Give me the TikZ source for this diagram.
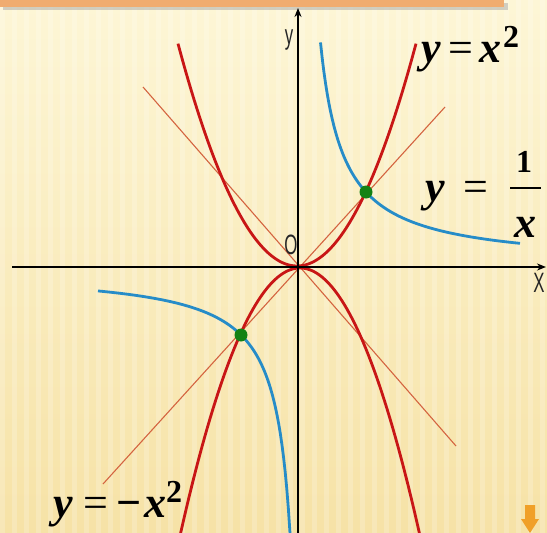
\documentclass[tikz,border=0pt]{standalone}
\usepackage{fontspec}
\setmainfont{Liberation Serif}
\newfontfamily\labfont{Liberation Sans}
\usetikzlibrary{arrows.meta}
\definecolor{bgtop}{RGB}{253,246,214}
\definecolor{bgbot}{RGB}{246,226,166}
\definecolor{curvered}{RGB}{200,22,22}
\definecolor{curveblue}{RGB}{38,140,200}
\definecolor{linered}{RGB}{212,100,64}
\definecolor{dotgreen}{RGB}{20,130,20}
\definecolor{barorange}{RGB}{240,172,112}
\definecolor{arroworange}{RGB}{240,160,40}
\begin{document}
\begin{tikzpicture}[x=1pt,y=-1pt,
  axis/.style={line width=1.8pt,-{Stealth[length=9pt,width=7pt]}},
  redcurve/.style={curvered,line width=2.8pt},
  bluecurve/.style={curveblue,line width=2.8pt},
  thinline/.style={linered,line width=1.1pt},
  dot/.style={circle,fill=dotgreen,inner sep=0pt,minimum size=13pt},
  glyph/.style={font=\fontsize{44}{48}\selectfont\bfseries\itshape,inner sep=0pt,anchor=base},
  eqsign/.style={font=\fontsize{44}{48}\selectfont,inner sep=0pt,anchor=base},
  sup/.style={font=\fontsize{32}{34}\selectfont\bfseries,inner sep=0pt,anchor=base},
  axlabel/.style={font=\labfont\fontsize{28}{30}\selectfont,inner sep=0pt,xscale=0.6,text=black!85}
]
\useasboundingbox (0,0) rectangle (547,533);
\shade[top color=bgtop,bottom color=bgbot] (0,0) rectangle (547,533);
\foreach \i in {0,...,45} \fill[white,opacity=0.2] (\i*12,0) rectangle ++(5,533);
% top bar
\fill[black!35,opacity=0.5] (3,3) rectangle (508,10);
\fill[barorange] (0,0) rectangle (504,7);
% lines y=x and y=-x
\coordinate (l1a) at (103,484); \coordinate (l1b) at (445,107);
\coordinate (l2a) at (143,87); \coordinate (l2b) at (456,446);
\draw[thinline] (l1a) -- (l1b);
\draw[thinline] (l2a) -- (l2b);
% parabolas
\draw[redcurve] plot[domain=178:416,samples=90] (\x,{266-0.0157*(\x-297)^2});
\draw[redcurve] plot[domain=180.5:419.5,samples=90] (\x,{268+0.0186*(\x-300)^2});
% hyperbola
\draw[bluecurve] plot[domain=320.5:520,samples=120] (\x,{266-5030/(\x-298)});
\draw[bluecurve] plot[domain=98:290,samples=120] (\x,{271+4143/(305.8-\x)});
% axes
\coordinate (xs) at (12,267); \coordinate (xe) at (546,267);
\coordinate (ys) at (298,533); \coordinate (ye) at (298,8);
\draw[axis] (xs) -- (xe);
\draw[axis] (ys) -- (ye);
% dots
\node[dot] (p1) at (366,192) {};
\node[dot] (p2) at (241,335) {};
% axis labels
\node[axlabel] (ylab) at (289,40) {y};
\node[axlabel] (olab) at (291,245) {O};
\node[axlabel] (xlab) at (539,283) {X};
% y = x^2
\node[glyph] (t1y) at (431,62) {y};
\node[eqsign] (t1e) at (461,62) {=};
\node[glyph] (t1x) at (490,62) {x};
\node[sup] (t1s) at (511,47) {2};
% y = 1/x
\node[glyph] (t2y) at (435,201) {y};
\node[eqsign] (t2e) at (476,201) {=};
\node[sup] (t2n) at (524,172) {1};
\draw[line width=1.8pt] (510,188) -- (541,188);
\node[glyph] (t2x) at (525,237) {x};
% y = -x^2
\node[glyph] (t3y) at (63,517) {y};
\node[eqsign] (t3e) at (96,517) {=};
\node[eqsign,font=\fontsize{44}{48}\selectfont\bfseries] (t3m) at (129,517) {\textminus};
\node[glyph] (t3x) at (155,517) {x};
\node[sup] (t3s) at (174,502) {2};
% corner arrow
\fill[arroworange] (525,505) -- (535,505) -- (535,519) -- (539,519) -- (530,533) -- (521,519) -- (525,519) -- cycle;
\end{tikzpicture}
\end{document}
